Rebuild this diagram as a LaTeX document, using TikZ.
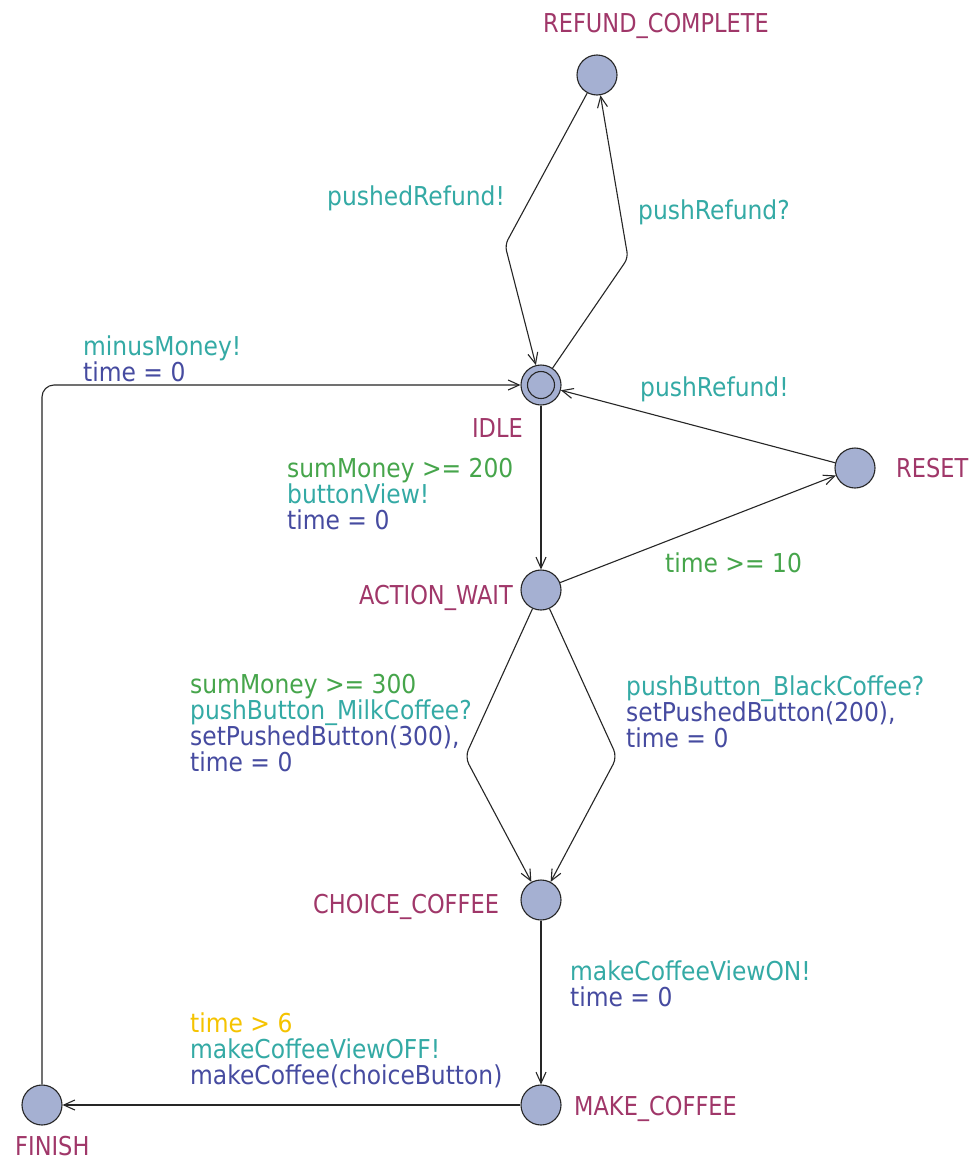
\documentclass[tikz,border=0pt]{standalone}
\usepackage{fontspec}
\setmainfont[FakeStretch=0.9]{DejaVu Sans}
\newfontfamily\namefont[FakeStretch=0.865]{DejaVu Sans}
\usetikzlibrary{arrows.meta}
\definecolor{locname}{RGB}{160,55,105}
\definecolor{syncc}{RGB}{52,170,165}
\definecolor{guardc}{RGB}{70,165,75}
\definecolor{assignc}{RGB}{70,75,160}
\definecolor{selc}{RGB}{245,195,0}
\definecolor{nodefill}{RGB}{165,176,210}
\begin{document}
\begin{tikzpicture}[x=1pt,y=-1pt,
  state/.style={circle,draw=black!85,line width=1.1pt,fill=nodefill,minimum size=40pt,inner sep=0pt},
  inner/.style={circle,draw=black!85,line width=1.1pt,minimum size=27pt,inner sep=0pt},
  lbl/.style={anchor=base west,inner sep=0pt,font=\fontsize{26}{26}\selectfont,align=left},
  nm/.style={anchor=base west,inner sep=0pt,font=\namefont\fontsize{26}{26}\selectfont,text=locname},
  edge/.style={draw=black!85,line width=1.1pt,-{Straight Barb[length=11pt,width=10pt]}}]
\useasboundingbox (0,0) rectangle (969,1162);
\fill[white] (0,0) rectangle (969,1162);
% states
\node[state] (rc) at (597,75) {};
\node[state] (idle) at (541,385) {};
\node[inner] (idlein) at (541,385) {};
\node[state] (reset) at (855,468) {};
\node[state] (aw) at (541,590) {};
\node[state] (cc) at (541,900) {};
\node[state] (mc) at (541,1105) {};
\node[state] (fin) at (42,1105) {};
% edges
\draw[edge,rounded corners=6pt] (rc) -- (505,245) -- (idle);
\draw[edge,rounded corners=6pt] (idle) -- (628,258) -- (rc);
\draw[edge,rounded corners=12pt] (fin) -- (42,385) -- (idle);
\draw[edge] (reset) -- (idle);
\draw[edge] (aw) -- (reset);
\draw[edge] (idle) -- (aw);
\draw[edge,rounded corners=8pt] (aw) -- (465,757) -- (cc);
\draw[edge,rounded corners=8pt] (aw) -- (617,757) -- (cc);
\draw[edge] (cc) -- (mc);
\draw[edge] (mc) -- (fin);
% location names
\node[nm] (nrc) at (543,32) {REFUND\_COMPLETE};
\node[nm,anchor=base east] (nidle) at (523,437) {IDLE};
\node[nm] (nreset) at (896,477) {RESET};
\node[nm,anchor=base east] (naw) at (513,604) {ACTION\_WAIT};
\node[nm] (ncc) at (313,913) {CHOICE\_COFFEE};
\node[nm] (nmc) at (574,1115) {MAKE\_COFFEE};
\node[nm] (nfin) at (15,1155) {FINISH};
% edge labels (anchored at the baseline of their last line)
\node[lbl,text=syncc] (l1) at (327,205) {pushedRefund!};
\node[lbl,text=syncc] (l2) at (638,219) {pushRefund?};
\node[lbl] (l3) at (83,381) {\textcolor{syncc}{minusMoney!}\\\textcolor{assignc}{time = 0}};
\node[lbl,text=syncc] (l4) at (640,396) {pushRefund!};
\node[lbl] (l5) at (287,529) {\textcolor{guardc}{sumMoney >= 200}\\\textcolor{syncc}{buttonView!}\\\textcolor{assignc}{time = 0}};
\node[lbl,text=guardc] (l6) at (665,572) {time >= 10};
\node[lbl] (l7) at (190,771) {\textcolor{guardc}{sumMoney >= 300}\\\textcolor{syncc}{pushButton\_MilkCoffee?}\\\textcolor{assignc}{setPushedButton(300),}\\\textcolor{assignc}{time = 0}};
\node[lbl] (l8) at (626,747) {\textcolor{syncc}{pushButton\_BlackCoffee?}\\\textcolor{assignc}{setPushedButton(200),}\\\textcolor{assignc}{time = 0}};
\node[lbl] (l9) at (570,1006) {\textcolor{syncc}{makeCoffeeViewON!}\\\textcolor{assignc}{time = 0}};
\node[lbl] (l10) at (190,1084) {\textcolor{selc}{time > 6}\\\textcolor{syncc}{makeCoffeeViewOFF!}\\\textcolor{assignc}{makeCoffee(choiceButton)}};
\end{tikzpicture}
\end{document}
